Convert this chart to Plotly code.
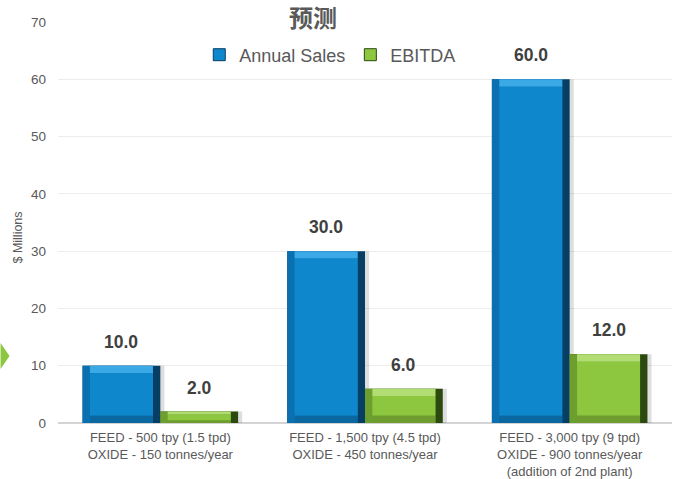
import plotly.graph_objects as go

# ---- data ----
categories = [
    "FEED - 500 tpy (1.5 tpd)<br>OXIDE - 150 tonnes/year",
    "FEED - 1,500 tpy (4.5 tpd)<br>OXIDE - 450 tonnes/year",
    "FEED - 3,000 tpy (9 tpd)<br>OXIDE - 900 tonnes/year<br>(addition of 2nd plant)",
]
annual_sales = [10.0, 30.0, 60.0]
ebitda = [2.0, 6.0, 12.0]
series_names = ["Annual Sales", "EBITDA"]
title_text = "预测"
y_title = "$ Millions"
y_ticks = [0, 10, 20, 30, 40, 50, 60, 70]

# ---- style ----
W, H = 676, 479
ML, MR, MT, MB = 57.5, 4, 22, 56
PW = W - ML - MR
PH = H - MT - MB
font_fam = "Liberation Sans, Arial, sans-serif"
grey = "#595959"

xpos = list(range(len(categories)))
bw = 0.38           # bar width in category units
bx = 0.036          # horizontal bevel
palettes = {
    "Annual Sales": dict(dark="#063f63", left="#0b70b0", top="#3aa9e6",
                         bottom="#0a679f", face="#0f87cd", off=-bw),
    "EBITDA": dict(dark="#2c4a10", left="#6c9f2d", top="#b2dc74",
                   bottom="#6e9c2f", face="#8dc63f", off=0.0),
}

fig = go.Figure()

for name, vals in zip(series_names, [annual_sales, ebitda]):
    p = palettes[name]
    by = [min(1.3, v * 0.25) for v in vals]
    common = dict(x=xpos, hoverinfo="skip", showlegend=False)
    # soft shadow on right
    fig.add_trace(go.Bar(y=vals, base=[0]*len(vals), width=bw, offset=p["off"] + 0.02,
                         marker=dict(color="rgba(0,0,0,0.13)", line=dict(width=0)), **common))
    # dark frame (right edge)
    fig.add_trace(go.Bar(y=vals, base=[0]*len(vals), width=bw, offset=p["off"],
                         marker=dict(color=p["dark"], line=dict(width=0)), **common))
    # left bevel
    fig.add_trace(go.Bar(y=vals, base=[0]*len(vals), width=bw - bx, offset=p["off"],
                         marker=dict(color=p["left"], line=dict(width=0)), **common))
    # top bevel
    fig.add_trace(go.Bar(y=by, base=[v - b for v, b in zip(vals, by)], width=bw - 2*bx,
                         offset=p["off"] + bx,
                         marker=dict(color=p["top"], line=dict(width=0)), **common))
    # bottom bevel
    fig.add_trace(go.Bar(y=by, base=[0]*len(vals), width=bw - 2*bx, offset=p["off"] + bx,
                         marker=dict(color=p["bottom"], line=dict(width=0)), **common))
    # face
    fig.add_trace(go.Bar(y=[v - 2*b for v, b in zip(vals, by)], base=by, width=bw - 2*bx,
                         offset=p["off"] + bx,
                         marker=dict(color=p["face"], line=dict(width=0)),
                         x=xpos, hoverinfo="skip", showlegend=False))
    # legend entry
    fig.add_trace(go.Bar(x=[None], y=[None], name=name,
                         marker=dict(color=p["face"], line=dict(color=p["dark"], width=1)),
                         showlegend=True))
    # value labels
    for i, v in enumerate(vals):
        fig.add_annotation(x=i + p["off"] + bw/2, y=v, xref="x", yref="y",
                           text=f"{v:.1f}", showarrow=False, yanchor="bottom", yshift=12,
                           font=dict(family=font_fam, size=17.5, color="#404040", weight="bold"))

# y-axis title
fig.add_annotation(xref="paper", yref="paper", x=(17 - ML) / PW, y=(H - MB - 238) / PH,
                   xanchor="center", yanchor="middle",
                   text=y_title, textangle=-90, showarrow=False,
                   font=dict(family=font_fam, size=12.5, color=grey))

# decorative green arrow on the left
def px2paper(px, py):
    return (px - ML) / PW, (H - MB - py) / PH
pts = [px2paper(0, 343), px2paper(9, 356), px2paper(0, 369)]
path = "M {} {} L {} {} L {} {} Z".format(*[c for pt in pts for c in pt])
fig.add_shape(type="path", path=path, xref="paper", yref="paper",
              fillcolor="#8dc63f", line=dict(width=0), layer="above")

fig.update_layout(
    width=W, height=H,
    margin=dict(l=ML, r=MR, t=MT, b=MB, pad=0, autoexpand=False),
    paper_bgcolor="white", plot_bgcolor="white",
    barmode="overlay",
    title=dict(text=title_text, x=313 / W, xref="container", xanchor="center",
               y=1 - 19 / H, yref="container", yanchor="middle",
               font=dict(family="Noto Sans CJK SC, sans-serif", size=24, color=grey, weight="bold")),
    legend=dict(orientation="h", x=(330 - ML) / PW, xanchor="center",
                y=(H - MB - 55) / PH, yanchor="middle", bgcolor="rgba(0,0,0,0)",
                font=dict(family=font_fam, size=18, color=grey), itemwidth=30,
                traceorder="normal"),
    xaxis=dict(range=[-0.5, len(categories) - 0.5], tickvals=xpos, ticktext=categories,
               showgrid=False, zeroline=False, showline=False, ticks="",
               ticklabelstandoff=5, automargin=False,
               tickfont=dict(family=font_fam, size=13, color=grey), fixedrange=True),
    yaxis=dict(range=[0, 70], tickvals=y_ticks, showgrid=True, gridcolor="#ededed",
               gridwidth=1, zeroline=True, zerolinecolor="#d4d4d4", zerolinewidth=2,
               ticks="", ticklabelstandoff=11, automargin=False,
               tickfont=dict(family=font_fam, size=13.5, color=grey), fixedrange=True),
    showlegend=True,
)

fig.write_html("out.html", config={"displayModeBar": False},
               post_script="document.body.style.margin='0';document.body.style.padding='0';")
